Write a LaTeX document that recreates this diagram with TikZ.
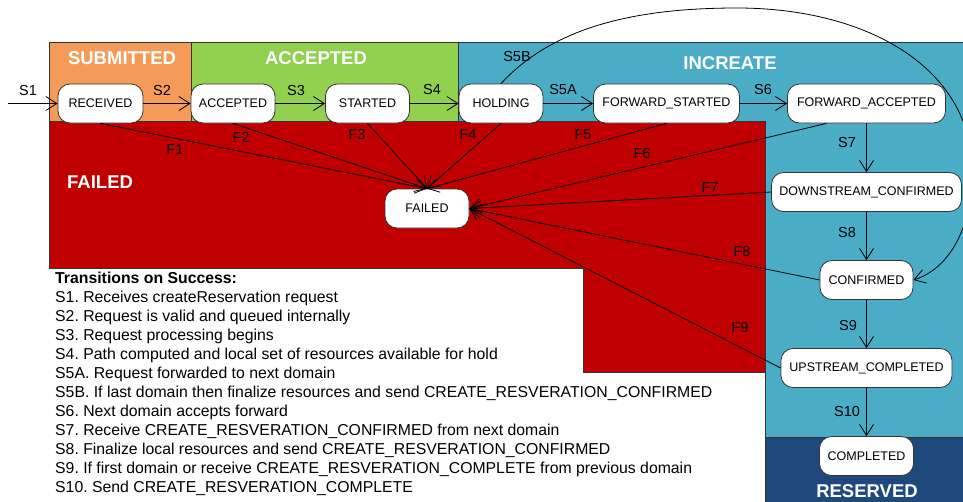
\documentclass[tikz,border=0pt]{standalone}
\usepackage{fontspec}
\setmainfont{Liberation Sans}
\usetikzlibrary{arrows.meta,calc}
\definecolor{subOrange}{HTML}{F59B5A}
\definecolor{accGreen}{HTML}{92D050}
\definecolor{incBlue}{HTML}{4BACC6}
\definecolor{failRed}{HTML}{C00000}
\definecolor{resBlue}{HTML}{1F497D}
\frenchspacing
\begin{document}
\begin{tikzpicture}[x=1pt,y=-1pt,
  region/.style={draw=black!80, line width=0.8pt},
  state/.style={draw=black!80, fill=white, rounded corners=12pt, minimum height=39pt,
    inner xsep=3pt, inner ysep=0pt, line width=0.8pt, font=\fontsize{12.5}{14}\selectfont},
  header/.style={text=white, inner sep=0pt, font=\fontsize{18.5}{20}\selectfont\bfseries},
  lbl/.style={inner sep=0pt, font=\fontsize{14.5}{16}\selectfont},
  trans/.style={draw=black, line width=0.8pt, -{Straight Barb[length=11pt,width=14pt]}},
  legend/.style={inner sep=0pt, anchor=base west, font=\fontsize{15.8}{19}\selectfont}
]
\useasboundingbox (0,0) rectangle (963,501);
\clip (0,0) rectangle (963,501);
\fill[white] (0,0) rectangle (963,501);

% phase areas
\path[region, fill=incBlue] (458,42) -- (975,42) -- (975,437) -- (765,437) -- (765,121) -- (458,121) -- cycle;
\path[region, fill=subOrange] (49,42) rectangle (191,121);
\path[region, fill=accGreen] (191,42) rectangle (458,121);
\path[region, fill=failRed] (49,121) -- (765,121) -- (765,372) -- (583,372) -- (583,268) -- (49,268) -- cycle;
\path[region, fill=resBlue] (765,437) rectangle (975,510);

% phase titles
\node[header] (hSub) at (122,58) {SUBMITTED};
\node[header] (hAcc) at (316,58) {ACCEPTED};
\node[header] (hInc) at (730,63) {INCREATE};
\node[header, anchor=west] (hFail) at (67,182) {FAILED};
\node[header] (hRes) at (867,491) {RESERVED};

% states
\node[state, minimum width=85pt] (rec) at (100.5,103.5) {RECEIVED};
\node[state, minimum width=84pt] (acc) at (233,103.5) {ACCEPTED};
\node[state, minimum width=84pt] (sta) at (367.5,103.5) {STARTED};
\node[state, minimum width=84pt] (hold) at (501,103.5) {HOLDING};
\node[state, minimum width=146pt] (fs) at (666.5,103.5) {FORWARD\_STARTED};
\node[state, minimum width=158pt] (fa) at (866.5,103.5) {FORWARD\_ACCEPTED};
\node[state, minimum width=190pt] (dc) at (866.5,192) {DOWNSTREAM\_CONFIRMED};
\node[state, minimum width=93pt] (conf) at (866.5,280) {CONFIRMED};
\node[state, minimum width=171pt] (up) at (866.5,368) {UPSTREAM\_COMPLETED};
\node[state, minimum width=94pt] (comp) at (866.5,456) {COMPLETED};
\node[state, minimum width=84pt] (fail) at (427,208.5) {FAILED};

\coordinate (s1in) at (8,103.5);

% success transitions
\draw[trans] (s1in) -- (rec);
\draw[trans] (rec) -- (acc);
\draw[trans] (acc) -- (sta);
\draw[trans] (sta) -- (hold);
\draw[trans] (hold) -- (fs);
\draw[trans] (fs) -- (fa);
\draw[trans] (fa.south) -- (dc.north);
\draw[trans] (dc.south) -- (conf.north);
\draw[trans] (conf.south) -- (up.north);
\draw[trans] (up.south) -- (comp.north);
\draw[trans] (hold.north) .. controls (555,25) and (640,8) .. (737,8)
  .. controls (870,8) and (972,70) .. (972,170)
  .. controls (972,235) and (945,270) .. (conf.east);

% failure transitions
\draw[trans] (rec.south) -- (fail.north);
\draw[trans] (acc.south) -- (fail.north);
\draw[trans] (sta.south) -- (fail.north);
\draw[trans] (hold.south) -- (fail.north);
\draw[trans] (fs.south) -- (fail.north);
\draw[trans] ([xshift=-40pt]fa.south) -- (fail.east);
\draw[trans] (dc.west) -- (fail.east);
\draw[trans] (conf.west) -- (fail.east);
\draw[trans] (up.west) -- (fail.east);

% transition labels
\node[lbl] (lS1) at (28,91) {S1};
\node[lbl] (lS2) at (162,91) {S2};
\node[lbl] (lS3) at (296,91) {S3};
\node[lbl] (lS4) at (432,90) {S4};
\node[lbl] (lS5A) at (563,90) {S5A};
\node[lbl] (lS5B) at (517,57) {S5B};
\node[lbl] (lS6) at (763,90) {S6};
\node[lbl] (lS7) at (847,143) {S7};
\node[lbl] (lS8) at (847,233) {S8};
\node[lbl] (lS9) at (848,326) {S9};
\node[lbl] (lS10) at (847,412) {S10};
\node[lbl] (lF1) at (175,150) {F1};
\node[lbl] (lF2) at (241,137) {F2};
\node[lbl] (lF3) at (357,135) {F3};
\node[lbl] (lF4) at (468,135) {F4};
\node[lbl] (lF5) at (583,135) {F5};
\node[lbl] (lF6) at (642,154) {F6};
\node[lbl] (lF7) at (710,188) {F7};
\node[lbl] (lF8) at (742,252) {F8};
\node[lbl] (lF9) at (740,328) {F9};

% legend
\node[legend, font=\fontsize{15.8}{19}\selectfont\bfseries] (legT) at (55,283.7) {Transitions on Success:};
\foreach \txt [count=\i] in {
  S1. Receives createReservation request,
  S2. Request is valid and queued internally,
  S3. Request processing begins,
  S4. Path computed and local set of resources available for hold,
  S5A. Request forwarded to next domain,
  S5B. If last domain then finalize resources and send CREATE\_RESVERATION\_CONFIRMED,
  S6. Next domain accepts forward,
  S7. Receive CREATE\_RESVERATION\_CONFIRMED from next domain,
  S8. Finalize local resources and send CREATE\_RESVERATION\_CONFIRMED,
  S9. If first domain or receive CREATE\_RESVERATION\_COMPLETE from previous domain,
  S10. Send CREATE\_RESVERATION\_COMPLETE}
  \node[legend] (leg\i) at (55,{283.7+19*\i}) {\txt};
\end{tikzpicture}
\end{document}
